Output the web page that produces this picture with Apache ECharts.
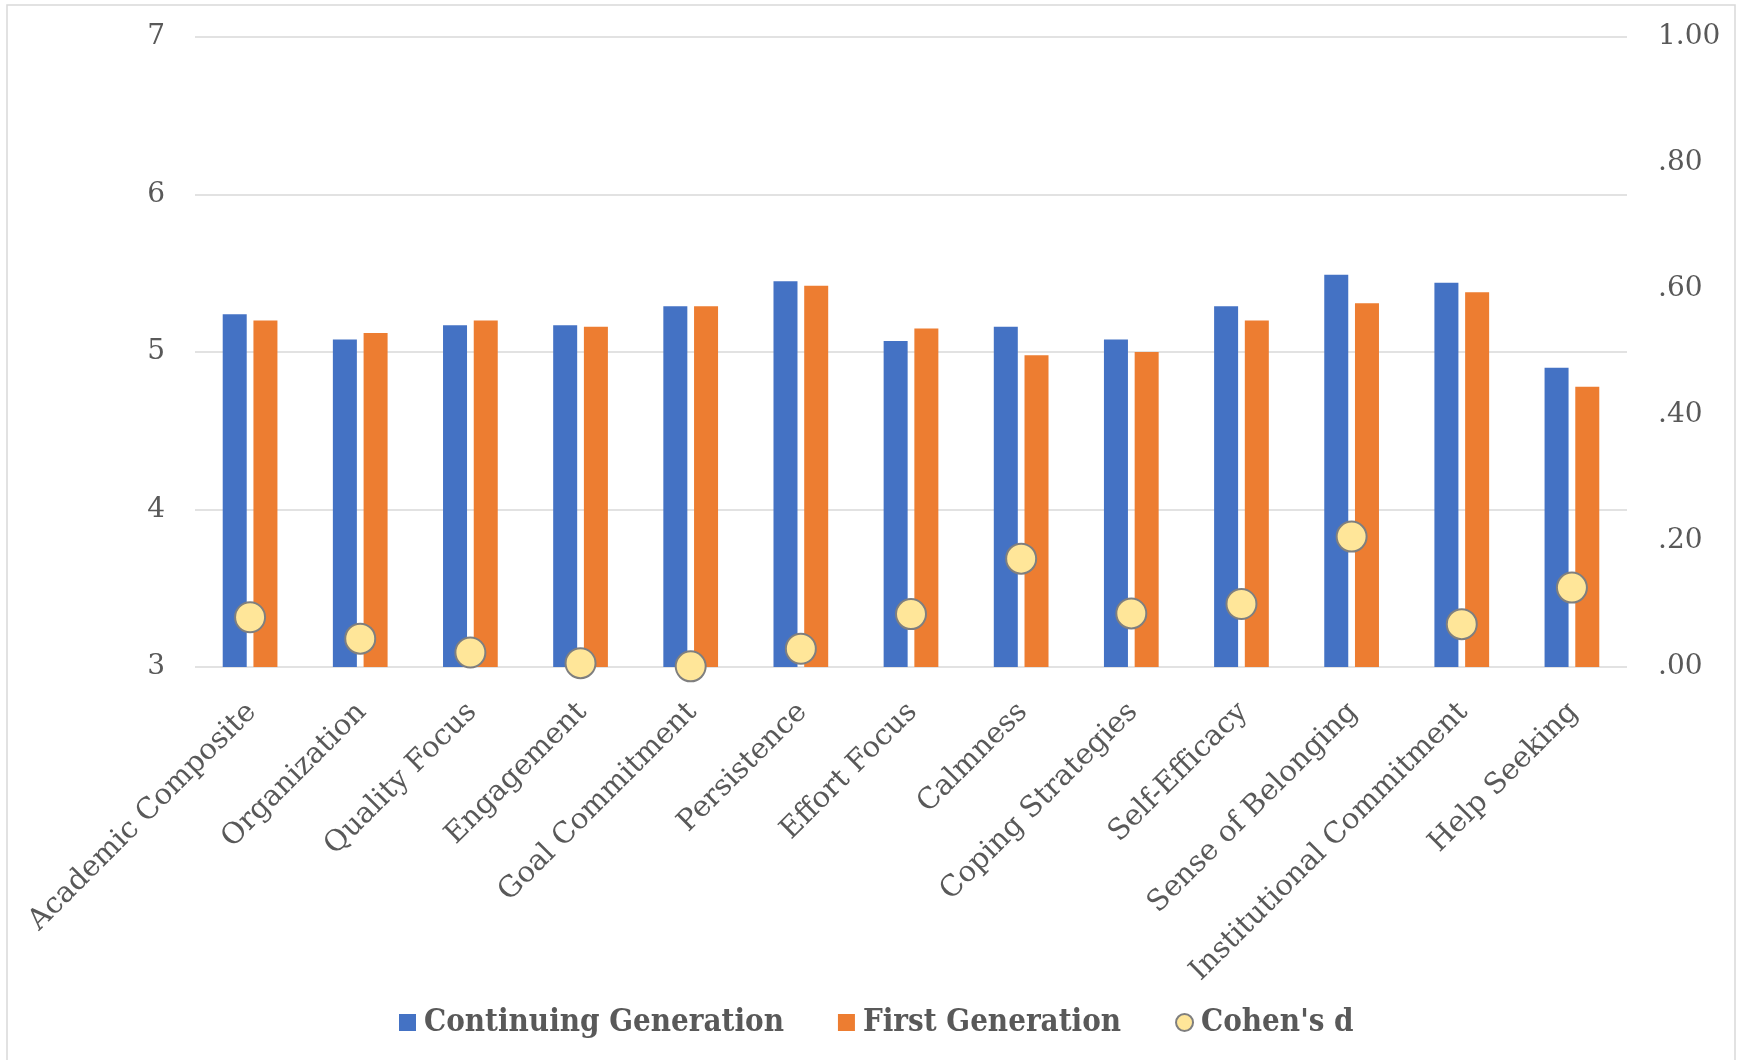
<!DOCTYPE html>
<html>
<head>
<meta charset="utf-8">
<script src="https://cdn.jsdelivr.net/npm/echarts@6/dist/echarts.min.js"></script>
<style>
  html, body { margin: 0; padding: 0; background: #fff; }
  #chart { width: 1737px; height: 1060px; }
</style>
</head>
<body>
<div id="chart"></div>
<script>
// Scale categories
const categories = [
  'Academic Composite', 'Organization', 'Quality Focus', 'Engagement',
  'Goal Commitment', 'Persistence', 'Effort Focus', 'Calmness',
  'Coping Strategies', 'Self-Efficacy', 'Sense of Belonging',
  'Institutional Commitment', 'Help Seeking'
];

// Mean scores (left axis)
const continuingGeneration = [5.24, 5.08, 5.17, 5.17, 5.29, 5.45, 5.07, 5.16, 5.08, 5.29, 5.49, 5.44, 4.90];
const firstGeneration      = [5.20, 5.12, 5.20, 5.16, 5.29, 5.42, 5.15, 4.98, 5.00, 5.20, 5.31, 5.38, 4.78];

// Effect sizes (right axis)
const cohensD = [0.079, 0.045, 0.023, 0.006, 0.001, 0.029, 0.084, 0.172, 0.085, 0.100, 0.207, 0.068, 0.126];

// Axis ranges
const meanAxis = { min: 3, max: 7, interval: 1 };
const effectAxis = { min: 0, max: 1, interval: 0.2 };

const textColor = '#595959';
const gridColor = '#D9D9D9';
const axisFont = "'DejaVu Serif', serif";
const legendFont = "'DejaVu Serif Condensed', 'DejaVu Serif', serif";

const chart = echarts.init(document.getElementById('chart'), null, { renderer: 'canvas' });

chart.setOption({
  backgroundColor: '#ffffff',
  animation: false,
  graphic: [{
    type: 'rect',
    silent: true,
    shape: { x: 7, y: 5, width: 1728, height: 1100 },
    style: { fill: null, stroke: gridColor, lineWidth: 1.5 }
  }],
  grid: { left: 195, right: 110, top: 37, bottom: 393, containLabel: false },
  legend: {
    left: 394,
    top: 1002,
    padding: 5,
    itemWidth: 17,
    itemHeight: 17,
    itemGap: 54,
    textStyle: {
      color: textColor,
      fontFamily: legendFont,
      fontWeight: 'bold',
      fontSize: 31,
      padding: [0, 0, 0, 3]
    },
    data: [
      { name: 'Continuing Generation', icon: 'rect' },
      { name: 'First Generation', icon: 'rect' },
      { name: "Cohen's d", icon: 'circle' }
    ]
  },
  xAxis: {
    type: 'category',
    data: categories,
    axisLine: { show: false },
    axisTick: { show: false },
    axisLabel: {
      interval: 0,
      rotate: 45,
      align: 'right',
      verticalAlign: 'top',
      margin: 22,
      padding: [0, 12, 0, 0],
      color: textColor,
      fontFamily: axisFont,
      fontSize: 29
    }
  },
  yAxis: [
    {
      type: 'value',
      min: meanAxis.min,
      max: meanAxis.max,
      interval: meanAxis.interval,
      axisLine: { show: false },
      axisTick: { show: false },
      splitLine: { lineStyle: { color: gridColor, width: 1.5 } },
      axisLabel: {
        margin: 30,
        color: textColor,
        fontFamily: axisFont,
        fontSize: 28
      }
    },
    {
      type: 'value',
      min: effectAxis.min,
      max: effectAxis.max,
      interval: effectAxis.interval,
      axisLine: { show: false },
      axisTick: { show: false },
      splitLine: { show: false },
      axisLabel: {
        margin: 31,
        color: textColor,
        fontFamily: axisFont,
        fontSize: 28,
        formatter: function (v) {
          const s = v.toFixed(2);
          return v < 1 ? s.slice(1) : s;
        }
      }
    }
  ],
  series: [
    {
      name: 'Continuing Generation',
      type: 'bar',
      data: continuingGeneration,
      barWidth: 24,
      barGap: '28%',
      itemStyle: { color: '#4472C4' }
    },
    {
      name: 'First Generation',
      type: 'bar',
      data: firstGeneration,
      barWidth: 24,
      barGap: '28%',
      itemStyle: { color: '#ED7D31' }
    },
    {
      name: "Cohen's d",
      type: 'scatter',
      yAxisIndex: 1,
      data: cohensD,
      symbol: 'circle',
      symbolSize: 30,
      z: 5,
      itemStyle: { color: '#FFE699', borderColor: '#7F7F7F', borderWidth: 2, opacity: 1 }
    }
  ]
});
</script>
</body>
</html>
